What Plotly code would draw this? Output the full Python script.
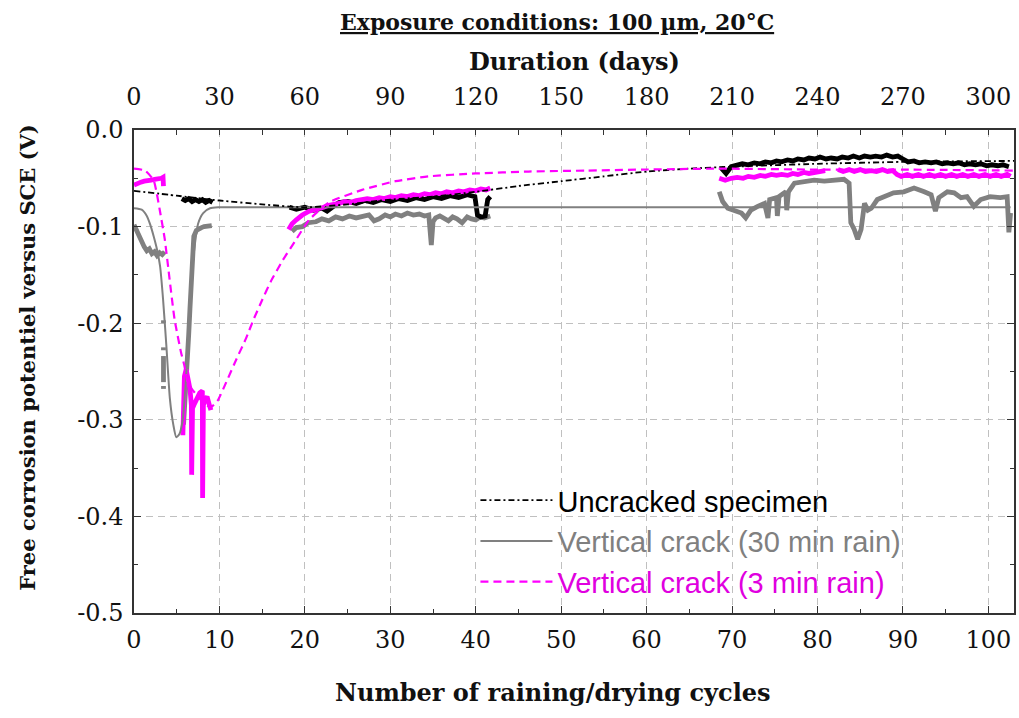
import plotly.graph_objects as go

# ---------------- data (cycles, potential V vs SCE) ----------------
# Uncracked specimen: smooth dash-dot trend
UNC_X = [0, 5, 10, 15, 20, 25, 30, 35, 40, 45, 50, 55, 60, 65, 70, 80, 90, 103]
UNC_Y = [-0.063, -0.068, -0.073, -0.077, -0.080, -0.077, -0.072, -0.069, -0.064, -0.058,
         -0.053, -0.048, -0.043, -0.040, -0.038, -0.035, -0.033, -0.032]
# Uncracked specimen: measured segments
UA_X = [5.6, 6.0, 6.4, 6.8, 7.2, 7.6, 8.0, 8.4, 8.8, 9.2]
UA_Y = [-0.071, -0.073, -0.071, -0.074, -0.072, -0.074, -0.072, -0.075, -0.073, -0.075]
UB_X = [18.2, 19.0, 20.0, 21.0, 22.0, 22.6, 23.2, 24.0, 25.0, 26.0, 27.0, 28.0, 29.0, 30.0, 31.0,
        32.0, 33.0, 34.0, 35.0, 36.0, 37.0, 38.0, 39.0, 39.9, 40.2, 40.6, 41.1, 41.4, 41.7]
UB_Y = [-0.080, -0.082, -0.080, -0.083, -0.081, -0.084, -0.080, -0.075, -0.074, -0.076, -0.073,
        -0.075, -0.072, -0.074, -0.071, -0.073, -0.070, -0.072, -0.069, -0.071, -0.068, -0.070,
        -0.067, -0.069, -0.088, -0.090, -0.089, -0.072, -0.069]
UC_X = [68.7, 69.3, 69.9, 70.5, 71.2, 71.9, 72.6, 73.3, 73.9, 74.6, 75.2, 75.8, 76.5, 77.1, 77.7,
        78.4, 79.0, 79.7, 80.3, 81.0, 81.6, 82.3, 82.9, 83.6, 84.2, 84.9, 85.5, 86.2, 86.8, 87.5,
        88.1, 88.8, 89.4, 90.0, 90.6, 91.3, 91.9, 92.6, 93.3, 93.9, 94.6, 95.2, 95.9, 96.5, 97.2,
        97.8, 98.5, 99.1, 99.8, 100.4, 101.1, 101.7, 102.4]
UC_Y = [-0.039, -0.045, -0.038, -0.037, -0.035, -0.036, -0.034, -0.035, -0.033, -0.034, -0.032,
        -0.033, -0.031, -0.032, -0.030, -0.031, -0.029, -0.030, -0.028, -0.030, -0.029, -0.030,
        -0.028, -0.029, -0.027, -0.029, -0.027, -0.028, -0.027, -0.028, -0.026, -0.028, -0.027,
        -0.030, -0.033, -0.032, -0.034, -0.033, -0.034, -0.033, -0.035, -0.034, -0.035, -0.034,
        -0.036, -0.035, -0.036, -0.035, -0.037, -0.036, -0.037, -0.036, -0.038]

# Vertical crack (30 min rain): smooth trend
G30_X = [0, 0.9, 1.5, 1.9, 2.3, 2.7, 3.05, 3.4, 3.8, 4.2, 4.6, 4.95, 5.3, 5.7, 6.1, 6.4, 6.73,
         7.1, 7.5, 8.1, 8.9, 9.9, 102.6]
G30_Y = [-0.081, -0.0825, -0.089, -0.098, -0.110, -0.124, -0.141, -0.175, -0.225, -0.278, -0.305,
         -0.318, -0.315, -0.300, -0.255, -0.205, -0.155, -0.120, -0.097, -0.086, -0.081, -0.080,
         -0.080]
# Vertical crack (30 min rain): measured segments
GA_X = [0.0, 0.3, 0.6, 0.9, 1.2, 1.5, 1.8, 2.1, 2.4, 2.7, 3.0, 3.3, 3.6]
GA_Y = [-0.098, -0.104, -0.110, -0.117, -0.121, -0.125, -0.123, -0.128, -0.126, -0.130, -0.127,
        -0.129, -0.126]
GD_X = [3.45, 3.45, None, 3.45, 3.45, None, 3.45, 3.45, None, 3.45, 3.45]
GD_Y = [-0.197, -0.200, None, -0.225, -0.228, None, -0.234, -0.261, None, -0.265, -0.268]
GA2_X = [5.8, 5.95, 6.1, 6.25, 6.4, 6.55, 6.7, 6.85, 7.0, 7.3, 7.6, 7.9, 8.2, 8.5, 8.8, 9.1]
GA2_Y = [-0.305, -0.285, -0.262, -0.240, -0.212, -0.185, -0.160, -0.130, -0.110, -0.104, -0.102,
         -0.101, -0.100, -0.100, -0.099, -0.099]
GB_X = [18.5, 19.0, 19.7, 20.4, 21.3, 22.0, 22.8, 23.6, 24.4, 25.2, 26.0, 26.7, 27.5, 28.1, 28.7,
        29.4, 30.0, 30.6, 31.3, 32.0, 32.7, 33.4, 34.0, 34.5, 34.8, 35.0, 35.3, 35.8, 36.3, 36.8,
        37.3, 37.8, 38.4, 39.0, 39.5, 40.0, 40.5, 41.0, 41.7]
GB_Y = [-0.105, -0.101, -0.100, -0.096, -0.095, -0.092, -0.094, -0.090, -0.092, -0.089, -0.091,
        -0.089, -0.088, -0.094, -0.092, -0.088, -0.090, -0.087, -0.089, -0.086, -0.088, -0.087,
        -0.089, -0.088, -0.119, -0.095, -0.091, -0.089, -0.092, -0.094, -0.090, -0.092, -0.096,
        -0.090, -0.092, -0.093, -0.090, -0.091, -0.089]
GC_X = [68.5, 68.9, 69.5, 70.3, 71.1, 71.6, 72.2, 73.0, 73.8, 74.2, 74.4, 75.2, 75.3, 75.5, 76.3,
        76.4, 76.6, 77.3, 78.5, 79.6, 80.8, 81.9, 83.1, 83.7, 83.9, 84.3, 84.7, 85.1, 85.5, 85.9,
        86.3, 87.0, 87.8, 88.9, 90.1, 91.3, 92.5, 93.3, 93.8, 94.2, 95.2, 96.0, 96.8, 97.5, 98.3,
        99.1, 100.2, 101.4, 102.2, 102.4, 102.6]
GC_Y = [-0.064, -0.074, -0.081, -0.083, -0.086, -0.091, -0.083, -0.079, -0.076, -0.091, -0.072,
        -0.070, -0.089, -0.069, -0.064, -0.083, -0.064, -0.055, -0.053, -0.052, -0.053, -0.052,
        -0.051, -0.055, -0.096, -0.103, -0.113, -0.103, -0.076, -0.083, -0.081, -0.072, -0.069,
        -0.065, -0.064, -0.060, -0.064, -0.067, -0.084, -0.070, -0.064, -0.065, -0.070, -0.069,
        -0.079, -0.072, -0.069, -0.070, -0.069, -0.106, -0.086]

# Vertical crack (3 min rain): smooth trend
M3_X = [0.0, 1.3, 2.3, 2.65, 3.0, 3.6, 4.0, 4.75, 5.5, 5.9, 6.3, 7.3, 8.2, 9.0, 9.8, 10.8, 12.0,
        13.1, 14.0, 15.0, 16.0, 17.4, 19.0, 20.5, 22.8, 26.7, 30.6, 34.5, 40.0, 46.2, 53.0, 59.4,
        68.3, 80.0, 90.0, 103.0]
M3_Y = [-0.040, -0.042, -0.052, -0.065, -0.082, -0.113, -0.142, -0.196, -0.230, -0.244, -0.262,
        -0.274, -0.283, -0.287, -0.280, -0.261, -0.237, -0.216, -0.196, -0.176, -0.157, -0.135,
        -0.113, -0.093, -0.075, -0.062, -0.053, -0.048, -0.045, -0.043, -0.042, -0.041, -0.040,
        -0.041, -0.041, -0.042]
# Vertical crack (3 min rain): measured segments
MA_X = [0.0, 0.4, 0.8, 1.2, 1.6, 2.0, 2.4, 2.8, 3.2, 3.4, 3.45]
MA_Y = [-0.057, -0.055, -0.054, -0.053, -0.053, -0.052, -0.051, -0.051, -0.050, -0.049, -0.058]
MT_X = [5.72, 5.75, 5.9, 6.1, 6.3, 6.55, 6.72, 6.75, 6.8, 6.85, 7.1, 7.4, 7.7, 8.0, 8.03, 8.06,
        8.12, 8.3, 8.55, 8.8, 9.0]
MT_Y = [-0.316, -0.280, -0.255, -0.248, -0.258, -0.268, -0.285, -0.357, -0.300, -0.288, -0.283,
        -0.278, -0.272, -0.270, -0.381, -0.330, -0.285, -0.279, -0.276, -0.284, -0.290]
MB_X = [18.1, 18.5, 19.0, 19.7, 20.5, 21.0, 21.5, 22.2, 22.8, 23.5, 24.0, 24.7, 25.3, 26.0, 26.7,
        27.3, 28.0, 28.7, 29.3, 30.0, 30.6, 31.3, 32.0, 32.7, 33.3, 34.0, 34.6, 35.3, 36.0, 36.6,
        37.3, 38.0, 38.6, 39.3, 40.0, 40.6, 41.2, 41.7]
MB_Y = [-0.103, -0.097, -0.093, -0.088, -0.084, -0.083, -0.081, -0.080, -0.078, -0.077, -0.076,
        -0.074, -0.075, -0.073, -0.072, -0.071, -0.072, -0.070, -0.071, -0.069, -0.070, -0.068,
        -0.069, -0.067, -0.068, -0.066, -0.067, -0.065, -0.066, -0.064, -0.065, -0.063, -0.064,
        -0.062, -0.063, -0.061, -0.062, -0.060]
MC_X = [68.5, 69.2, 69.9, 70.6, 71.3, 71.9, 72.6, 73.3, 73.9, 74.6, 75.2, 75.8, 76.5, 77.1, 77.7,
        78.4, 79.0, 79.6, 80.3, 80.9, None, 82.4, 83.0, 83.7, 84.3, 85.0, 85.6, 86.3, 86.9, 87.6,
        88.2, 88.8, 89.3, 89.8, 90.5, 91.1, 91.8, 92.4, 93.1, 93.7, 94.4, 95.0, 95.7, 96.3, 97.0,
        97.6, 98.3, 98.9, 99.6, 100.2, 100.9, 101.5, 102.2, 102.6]
MC_Y = [-0.050, -0.052, -0.050, -0.049, -0.050, -0.048, -0.049, -0.047, -0.048, -0.046, -0.047,
        -0.046, -0.047, -0.045, -0.046, -0.044, -0.045, -0.044, -0.043, -0.042, None, -0.041,
        -0.043, -0.041, -0.043, -0.041, -0.043, -0.042, -0.043, -0.041, -0.043, -0.042, -0.046,
        -0.048, -0.046, -0.048, -0.046, -0.048, -0.046, -0.048, -0.046, -0.048, -0.046, -0.048,
        -0.046, -0.048, -0.046, -0.048, -0.046, -0.048, -0.046, -0.048, -0.046, -0.048]

# axis ticks
Y_TICKS = [0.0, -0.1, -0.2, -0.3, -0.4, -0.5]
Y_TICKTEXT = ["0.0", "-0.1", "-0.2", "-0.3", "-0.4", "-0.5"]
DAYS_PER_CYCLE = 3

NAMES = ["Uncracked specimen", "Vertical crack (30 min rain)", "Vertical crack (3 min rain)"]

# ---------------- styling ----------------
BLACK = "#000000"
GRAY = "#808080"
MAG = "#ff00ff"
MAG_TXT = "#e000e0"
THICK = 4.8


def join(*segs):
    xs, ys = [], []
    for sx, sy in segs:
        assert len(sx) == len(sy)
        if xs:
            xs.append(None)
            ys.append(None)
        xs += list(sx)
        ys += list(sy)
    return xs, ys


fig = go.Figure()

gx, gy = join((GA_X, GA_Y), (GD_X, GD_Y), (GA2_X, GA2_Y), (GB_X, GB_Y), (GC_X, GC_Y))
fig.add_trace(go.Scatter(x=gx, y=gy, mode="lines", line=dict(color=GRAY, width=THICK),
                         showlegend=False, hoverinfo="skip"))
ux, uy = join((UA_X, UA_Y), (UB_X, UB_Y), (UC_X, UC_Y))
fig.add_trace(go.Scatter(x=ux, y=uy, mode="lines", line=dict(color=BLACK, width=THICK),
                         showlegend=False, hoverinfo="skip"))
mx, my = join((MA_X, MA_Y), (MT_X, MT_Y), (MB_X, MB_Y), (MC_X, MC_Y))
fig.add_trace(go.Scatter(x=mx, y=my, mode="lines", line=dict(color=MAG, width=THICK),
                         showlegend=False, hoverinfo="skip"))

assert len(G30_X) == len(G30_Y) and len(UNC_X) == len(UNC_Y) and len(M3_X) == len(M3_Y)
fig.add_trace(go.Scatter(x=G30_X, y=G30_Y, mode="lines", name=f"<span style='color:{GRAY}'>{NAMES[1]}</span>",
                         line=dict(color=GRAY, width=2, shape="spline", smoothing=0.6),
                         legendrank=2, legendgroup="g2"))
fig.add_trace(go.Scatter(x=UNC_X, y=UNC_Y, mode="lines", name=f"<span style='color:{BLACK}'>{NAMES[0]}</span>",
                         line=dict(color=BLACK, width=1.8, dash="6px,3px,2px,3px", shape="spline", smoothing=0.6),
                         legendrank=1, legendgroup="g1"))
fig.add_trace(go.Scatter(x=M3_X, y=M3_Y, mode="lines", name=f"<span style='color:{MAG_TXT}'>{NAMES[2]}</span>",
                         line=dict(color=MAG, width=2.2, dash="8px,5px", shape="spline", smoothing=0.5),
                         legendrank=3, legendgroup="g3"))

# helper trace carrying the top (days) axis
fig.add_trace(go.Scatter(x=[c * DAYS_PER_CYCLE for c in UNC_X], y=UNC_Y, xaxis="x2", mode="lines",
                         line=dict(width=0), opacity=0, showlegend=False, hoverinfo="skip"))

TICKFONT = dict(family="DejaVu Serif", size=24, color="#111111")
GRID = "#c0c0c0"

fig.update_layout(
    width=1019, height=718,
    margin=dict(l=134, r=3, t=130, b=105),
    paper_bgcolor="white", plot_bgcolor="white",
    font=dict(family="DejaVu Serif", color="#111111"),
    showlegend=True,
    legend=dict(x=0.388, y=0.286, xanchor="left", yanchor="top", bgcolor="rgba(0,0,0,0)",
                font=dict(family="Liberation Sans", size=29), itemwidth=72,
                tracegroupgap=0, traceorder="normal"),
    xaxis=dict(range=[0, 103], tickmode="linear", tick0=0, dtick=10, ticks="inside", ticklen=7,
               tickwidth=1.2, tickcolor="#333", showline=True, linecolor="#333", linewidth=1.5,
               mirror=False, showgrid=True, gridcolor=GRID, griddash="7px,5px", gridwidth=1.2,
               zeroline=False, tickfont=TICKFONT, ticklabelstandoff=4,
               minor=dict(dtick=5, tick0=0, ticks="inside", ticklen=4, tickcolor="#333", showgrid=False)),
    xaxis2=dict(range=[0, 103 * DAYS_PER_CYCLE], overlaying="x", side="top", tickmode="linear",
                tick0=0, dtick=30, ticks="inside", ticklen=5, tickwidth=1.2, tickcolor="#333",
                showline=True, linecolor="#333", linewidth=1.5, showgrid=False, zeroline=False,
                tickfont=TICKFONT, ticklabelstandoff=14,
                minor=dict(dtick=15, tick0=0, ticks="inside", ticklen=5, tickcolor="#333", showgrid=False)),
    yaxis=dict(range=[-0.5, 0], tickmode="array", tickvals=Y_TICKS, ticktext=Y_TICKTEXT,
               ticks="inside", ticklen=7, tickwidth=1.2, tickcolor="#333", showline=True,
               linecolor="#333", linewidth=1.5, mirror="ticks", showgrid=True, gridcolor=GRID,
               griddash="7px,5px", gridwidth=1.2, zeroline=False, tickfont=TICKFONT,
               ticklabelstandoff=4,
               minor=dict(dtick=0.05, tick0=0, ticks="inside", ticklen=4, tickcolor="#333", showgrid=False)),
)

ann = dict(xref="paper", yref="paper", showarrow=False, font=dict(family="DejaVu Serif", color="#111111"))
fig.add_annotation(ann, text="<b><u>Exposure conditions: 100 µm, 20°C</u></b>", x=0.481, y=1.2236,
                   xanchor="center", yanchor="middle", font_size=22)
fig.add_annotation(ann, text="<b>Duration (days)</b>", x=0.501, y=1.1408,
                   xanchor="center", yanchor="middle", font_size=24)
fig.add_annotation(ann, text="<b>Number of raining/drying cycles</b>", x=0.476, y=-0.1636,
                   xanchor="center", yanchor="middle", font_size=24)
fig.add_annotation(ann, text="<b>Free corrosion potentiel versus SCE (V)</b>", x=-0.1213, y=0.529,
                   xanchor="center", yanchor="middle", textangle=-90, font_size=21)

fig.write_html("out.html", config={"displayModeBar": False},
               post_script="document.body.style.margin='0px';")
